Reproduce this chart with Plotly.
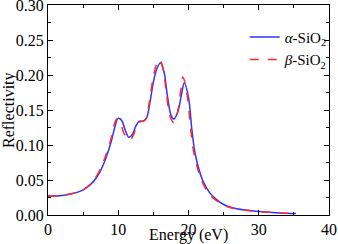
import plotly.graph_objects as go

energy_a = [0, 2, 4, 5, 6, 7, 8, 9, 9.5, 10, 10.5, 11, 11.5, 12, 12.5, 13, 13.5, 14, 14.5, 15, 15.5, 16, 16.5, 17, 17.5, 17.9, 18.5, 19, 19.4, 20, 20.5, 21, 22, 23, 24, 25, 26, 28, 30, 33, 35.3]
refl_a = [0.027, 0.028, 0.032, 0.036, 0.043, 0.055, 0.075, 0.105, 0.125, 0.138, 0.135, 0.121, 0.111, 0.115, 0.127, 0.134, 0.134, 0.138, 0.16, 0.19, 0.209, 0.217, 0.205, 0.17, 0.143, 0.137, 0.148, 0.172, 0.189, 0.168, 0.12, 0.085, 0.05, 0.032, 0.022, 0.015, 0.011, 0.007, 0.005, 0.003, 0.002]

energy_b = [0, 2, 4, 5, 6, 7, 8, 9, 9.3, 9.8, 10.3, 10.8, 11.6, 12.1, 12.6, 13.1, 13.6, 14, 14.4, 14.9, 15.4, 15.9, 16.4, 16.9, 17.4, 17.9, 18.4, 18.9, 19.2, 19.8, 20.3, 20.8, 21.8, 22.8, 23.8, 24.8, 25.8, 28, 30, 33, 35.3]
refl_b = [0.027, 0.028, 0.032, 0.036, 0.044, 0.057, 0.079, 0.11, 0.125, 0.137, 0.132, 0.117, 0.107, 0.113, 0.126, 0.133, 0.134, 0.138, 0.16, 0.192, 0.214, 0.222, 0.208, 0.17, 0.14, 0.132, 0.145, 0.178, 0.197, 0.172, 0.124, 0.087, 0.051, 0.032, 0.022, 0.015, 0.011, 0.007, 0.005, 0.003, 0.002]

name_a = "<i>α</i>-SiO<sub>2</sub>"
name_b = "<i>β</i>-SiO<sub>2</sub>"

fig = go.Figure()
fig.add_trace(go.Scatter(x=energy_a, y=refl_a, mode="lines", name=name_a,
                         line=dict(color="#3333ff", width=1.5, shape="spline", smoothing=1.0)))
fig.add_trace(go.Scatter(x=energy_b, y=refl_b, mode="lines", name=name_b,
                         line=dict(color="#ff2a2a", width=1.5, dash="dash", shape="spline", smoothing=1.0)))

font = dict(family="Liberation Serif, Times New Roman, serif", size=16, color="black")
axis_common = dict(showline=True, linecolor="black", linewidth=1.2, mirror="ticks",
                   ticks="inside", ticklen=5, tickwidth=1, tickcolor="black",
                   showgrid=False, zeroline=False, tickfont=font, ticklabeloverflow="allow",
                   automargin=False)

fig.update_xaxes(range=[0, 40], tickvals=[0, 10, 20, 30, 40],
                 minor=dict(dtick=5, ticks="inside", ticklen=3, tickcolor="black"),
                 **axis_common)
fig.update_yaxes(range=[0, 0.30], dtick=0.05, tickformat=".2f",
                 minor=dict(dtick=0.025, ticks="inside", ticklen=3, tickcolor="black"),
                 **axis_common)

fig.add_annotation(text="Energy (eV)", xref="paper", yref="paper", x=0.5, y=0.0,
                   yshift=-20, xanchor="center", yanchor="middle", showarrow=False, font=font)
fig.add_annotation(text="Reflectivity", xref="paper", yref="paper", x=0, y=0.5,
                   xshift=-39, textangle=-90, xanchor="center", yanchor="middle",
                   showarrow=False, font=font)

fig.update_layout(width=338, height=244, margin=dict(l=48, r=7, t=5, b=29),
                  paper_bgcolor="white", plot_bgcolor="white", font=font,
                  showlegend=True,
                  legend=dict(x=0.70, y=0.925, xanchor="left", yanchor="top",
                              bgcolor="rgba(0,0,0,0)", font=dict(family=font["family"], size=15),
                              tracegroupgap=0, itemwidth=30))
fig.write_html("out.html", config={"displayModeBar": False},
               post_script="document.body.style.margin='0';document.body.style.padding='0';")
